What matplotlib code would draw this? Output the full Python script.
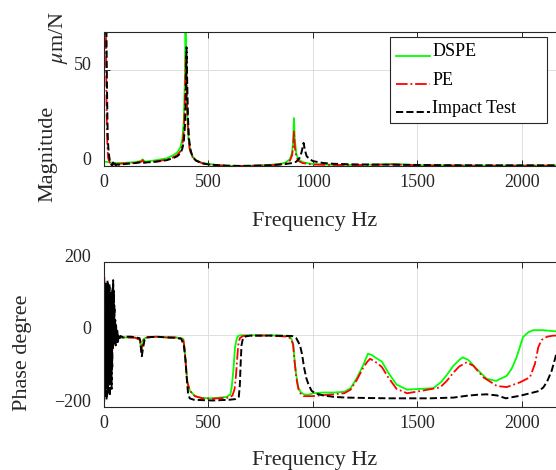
import matplotlib
matplotlib.use('Agg')
import matplotlib.pyplot as plt
import matplotlib.transforms as mtransforms

# ---- magnitude (um/N) ----
mag_dspe_f = [0, 20, 40, 60, 100, 150, 175, 185, 192, 200, 250, 300, 330, 350, 365, 375, 382, 387,
              390, 393, 397, 402, 410, 420, 440, 470, 500, 550, 600, 650, 700, 750, 800, 840, 870,
              890, 900, 905, 909, 913, 920, 930, 950, 980, 1000, 1050, 1100, 1200, 1300, 1380,
              1450, 1500, 1600, 1800, 2000, 2200]
mag_dspe = [2.2, 2.0, 1.6, 1.5, 1.6, 2.0, 2.6, 3.4, 2.6, 2.3, 3.0, 4.0, 5.5, 7.0, 9.5, 14, 24, 45,
            75, 60, 32, 17, 9, 5.5, 3.0, 1.6, 1.0, 0.4, 0.1, 0.0, 0.1, 0.3, 0.6, 1.0, 1.8,
            3.5, 7, 13, 25, 14, 6.5, 3.5, 2.0, 1.3, 1.0, 0.8, 0.6, 0.5, 0.7, 1.0,
            0.7, 0.4, 0.3, 0.2, 0.2, 0.2]

mag_pe_f = [0, 2, 5, 8, 10, 12, 14, 16, 18, 20, 25, 30, 40, 60, 100, 150, 180, 186, 192, 200, 250,
            300, 330, 350, 365, 375, 382, 387, 390, 392, 395, 400, 405, 410, 420, 440, 470, 500,
            550, 600, 650, 700, 750, 800, 840, 870, 890, 900, 905, 909, 913, 920, 930, 950, 980,
            1000, 1050, 1100, 1200, 1300, 1380, 1450, 1500, 1600, 1800, 2000, 2200]
mag_pe = [30, 80, 110, 90, 60, 35, 20, 12, 7, 4, 2.5, 1.2, 0.8, 1.0, 1.3, 1.7, 2.2, 3.0, 1.8, 1.8, 2.4,
          3.2, 4.4, 5.6, 7.5, 11, 18, 33, 50, 57, 45, 24, 14, 9, 5, 2.8, 1.4, 0.8,
          0.3, 0.05, 0, 0.05, 0.2, 0.4, 0.8, 1.4, 2.8, 5.5, 10, 18, 10, 5, 2.6, 1.5, 1.0,
          0.7, 0.6, 0.5, 0.4, 0.6, 0.8, 0.5, 0.3, 0.2, 0.1, 0.1, 0.1]

mag_imp_f = [0, 3, 6, 9, 12, 14, 16, 18, 20, 22, 25, 28, 32, 36, 40, 44, 48, 52, 56, 60, 70, 100,
             150, 185, 190, 250, 300, 330, 350, 365, 375, 382, 388, 392, 395, 398, 402, 407, 415,
             425, 440, 470, 500, 550, 600, 650, 700, 750, 800, 840, 870, 900, 920, 935, 945, 955,
             962, 970, 985, 1000, 1050, 1100, 1200, 1300, 1400, 1500, 1600, 1800, 2000, 2200]
mag_imp = [40, 90, 120, 100, 70, 45, 28, 16, 11, 8, 5, 3, 1.5, 0.5, 0.2, 1.8, 0.3, 1.2, 0.2, 0.8, 0.6, 1.0,
           1.5, 2.0, 1.7, 2.2, 3.0, 4.0, 5.0, 6.5, 9, 13, 22, 38, 62, 45, 25, 14, 8,
           4.5, 2.8, 1.3, 0.8, 0.3, 0.05, 0, 0.05, 0.2, 0.4, 0.7, 1.0, 1.5, 2.2, 4, 7, 12,
           8, 5, 3.5, 2.5, 1.5, 1.1, 0.8, 0.7, 0.6, 0.5, 0.4, 0.3, 0.3, 0.3]

# ---- phase (degree) ----
ph_dspe_f = [0, 60, 100, 150, 172, 176, 179, 183, 190, 205, 250, 300, 340, 370, 379, 386, 392, 399,
             411, 435, 470, 520, 587, 605, 611, 619, 627, 635, 643, 660, 700, 800, 880, 895, 905,
             912, 919, 925, 930, 940, 955, 980, 1000, 1050, 1100, 1150, 1180, 1210, 1240, 1263,
             1280, 1300, 1330, 1360, 1400, 1450, 1512, 1576, 1615, 1645, 1672, 1700, 1716, 1743,
             1783, 1831, 1876, 1927, 1950, 1974, 2005, 2030, 2053, 2100, 2156, 2200]
ph_dspe = [-20, -10, -8, -8, -15, -35, -45, -30, -12, -8, -6, -8, -8, -10, -12, -40, -86, -132,
           -155, -170, -175, -176, -172, -165, -146, -100, -35, -12, -3, -2, -2, -2, -4, -10, -25,
           -70, -108, -130, -146, -158, -165, -166, -162, -160, -160, -158, -148, -120, -85, -53,
           -56, -64, -75, -105, -138, -152, -150, -148, -130, -108, -86, -70, -63, -70,
           -95, -122, -128, -114, -95, -63, -7, 6, 12, 12, 9, 7]

ph_pe_f = [0, 1, 2, 3, 4, 5, 6, 7.5, 9, 10.5, 12, 13.5, 15, 16.5, 18, 19.5, 21, 22.5, 24, 25.5, 27,
           28.5, 30, 32, 34, 36, 38, 40, 42, 44, 46, 48, 50, 53, 56, 60, 70, 100, 150, 172, 176,
           179, 183, 190, 205, 250, 300, 340, 370, 379, 386, 392, 399, 411, 435, 470, 520, 600,
           615, 625, 632, 637, 642, 650, 665, 700, 800, 880, 895, 905, 912, 919, 925, 930, 940,
           955, 1000, 1050, 1100, 1150, 1180, 1210, 1240, 1260, 1273, 1290, 1310, 1330, 1360,
           1400, 1450, 1512, 1608, 1640, 1672, 1700, 1735, 1767, 1815, 1880, 1927, 1990, 2038,
           2062, 2078, 2094, 2120, 2150, 2200]
ph_pe = [150, -185, 160, -170, 120, -150, 100, -120, 140, -90, 110, -140, 80, -60, 120, -100, 60, -50,
         90, -70, 40, -40, 50, -60, 30, -35, 25, -40, 20, -30, 10, -25, 5, -20, -5, -15, -8, -8, -9,
         -15, -35, -45, -30, -12, -8, -6, -8, -8, -10, -12, -40, -86, -132, -155, -170, -176, -177,
         -174, -168, -150, -110, -70, -30, -10, -4, -3, -3, -6, -12, -28, -75, -112, -135, -150,
         -162, -170, -170, -167, -165, -162, -152, -125, -92, -75, -67, -72, -80, -90, -118, -150,
         -162, -156, -146, -128, -105, -88, -77, -86, -118, -142, -145, -132, -118, -81, -35, -15,
         -6, -3, -3]

ph_imp_f = [5, 6.5, 8, 9.5, 11, 12.5, 14, 15.5, 17, 18.5, 20, 21.5, 23, 24.5, 26, 27.5, 29, 30.5,
            32, 33.5, 35, 36.5, 38, 39.5, 41, 42.5, 44, 45.5, 47, 48.5, 50, 52, 54, 56, 58, 61, 64,
            67, 70, 75, 80, 90, 100, 130, 150, 170, 175, 178, 181, 186, 194, 205, 250,
            300, 340, 370, 382, 390, 396, 402, 410, 430, 470, 520, 600, 630, 645, 650, 654, 658,
            665, 680, 700, 800, 900, 920, 938, 948, 957, 968, 978, 993, 1010, 1048, 1100, 1160,
            1250, 1368, 1450, 1560, 1672, 1735, 1790, 1831, 1880, 1923, 1990, 2053, 2080, 2102,
            2120, 2142, 2158, 2170, 2200]
ph_imp = [90, -170, 140, -120, 60, -180, 130, -100, 150, -160, 40, -140, 110, -90,
          140, -170, 80, -130, 120, -60, 100, -150, 60, -90, 130, -40, 150, -20, 120, -30, 80, -10,
          40, -30, 25, -25, 10, -20, 0, -10, -4, -8, -6, -6, -8, -10, -20, -45, -60, -40, -15, -8,
          -6, -8, -9, -12, -30, -70, -120, -160, -176, -180, -181, -182, -180, -178, -172, -140,
          -80, -30, -10, -5, -3, -3, -4, -10, -30, -55, -90, -120, -137, -155, -162, -168, -172,
          -174, -175, -176, -176, -176, -174, -169, -166, -165, -168, -176, -169, -160, -156, -146,
          -130, -100, -67, -40, -18]

plt.rcParams['font.family'] = ['Liberation Serif', 'DejaVu Serif']
plt.rcParams['mathtext.fontset'] = 'stix'

fig = plt.figure(figsize=(5.56, 4.70), dpi=100)
ax1 = fig.add_axes([0.187, 0.647, 0.827, 0.285])
ax2 = fig.add_axes([0.187, 0.134, 0.827, 0.3085])

green = '#00ff00'
red = '#ff0000'

ax1.plot(mag_dspe_f, mag_dspe, color=green, lw=1.3, label='DSPE')
ax1.plot(mag_pe_f, mag_pe, color=red, lw=1.3, ls='-.', label='PE')
ax1.plot(mag_imp_f, mag_imp, color='black', lw=1.4, ls='--', label='Impact Test')

ax2.plot(ph_dspe_f, ph_dspe, color=green, lw=1.3)
ax2.plot(ph_pe_f, ph_pe, color=red, lw=1.3, ls='-.')
ax2.plot(ph_imp_f, ph_imp, color='black', lw=1.4, ls='--')

ax1.set_ylim(0, 70)
ax1.set_yticks([0, 50])
ax2.set_ylim(-200, 200)
ax2.set_yticks([-200, 0, 200])

for ax in (ax1, ax2):
    ax.set_xlim(0, 2200)
    ax.set_xticks([0, 500, 1000, 1500, 2000])
    ax.grid(True, color='#dedede', lw=0.7)
    ax.set_axisbelow(True)
    ax.tick_params(direction='in', top=True, right=True, length=4, width=0.7,
                   colors='#262626', labelsize=13)
    ax.tick_params(axis='x', pad=6)
    ax.tick_params(axis='y', pad=9)
    for s in ax.spines.values():
        s.set_color('#262626')
        s.set_linewidth(0.8)
    # MATLAB puts the y tick labels a little above their grid line
    off = mtransforms.ScaledTranslation(0, 5 / 72, fig.dpi_scale_trans)
    for t in ax.get_yticklabels():
        t.set_transform(t.get_transform() + off)

# axis titles
fig.text(0.565, 0.519, 'Frequency Hz', fontsize=16, ha='center', va='baseline', color='#262626')
fig.text(0.565, 0.0106, 'Frequency Hz', fontsize=16, ha='center', va='baseline', color='#262626')
fig.text(0.0863, 0.673, 'Magnitude', fontsize=16, rotation=90, ha='center', va='center', color='#262626')
fig.text(0.106, 0.920, r'$\mu$m/N', fontsize=16, rotation=90, ha='center', va='center', color='#262626')
fig.text(0.041, 0.25, 'Phase degree', fontsize=16, rotation=90, ha='center', va='center', color='#262626')

# legend box spans x 390..547, y 37..123 px (MATLAB leaves room on the right)
leg = ax1.legend(loc='upper left', bbox_to_anchor=(390 / 556, (470 - 123) / 470, 157 / 556, 86 / 470),
                 bbox_transform=fig.transFigure, mode='expand',
                 fontsize=13, frameon=True, fancybox=False, edgecolor='#262626', framealpha=1,
                 handlelength=1.85, handletextpad=0.15, borderpad=0.35, labelspacing=0.62,
                 borderaxespad=0)
leg.get_frame().set_linewidth(0.8)
for l in leg.get_lines():
    l.set_ydata([y - 4 for y in l.get_ydata()])

fig.savefig('out.png', dpi=100)
